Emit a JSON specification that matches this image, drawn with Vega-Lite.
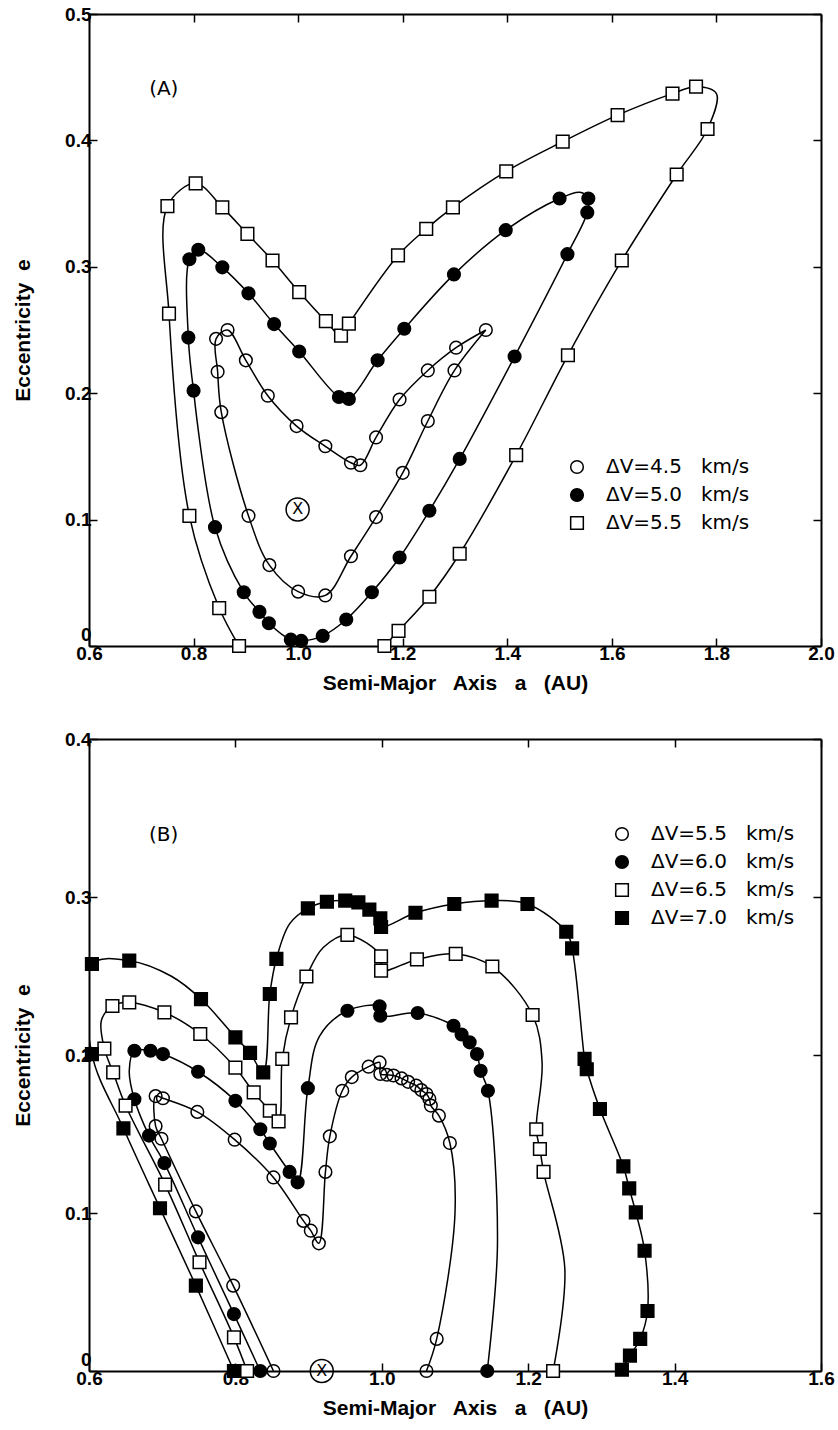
{
  "$schema": "https://vega.github.io/schema/vega-lite/v6.json",
  "background": "white",
  "padding": {"left": 12, "top": 5, "right": 5, "bottom": 5},
  "config": {
    "view": {"stroke": null},
    "font": "Liberation Sans",
    "axis": {
      "domainColor": "black", "domainWidth": 2, "tickColor": "black", "tickWidth": 1.5, "tickSize": -8,
      "labelFont": "Liberation Sans", "labelFontSize": 19, "labelFontWeight": "bold", "labelColor": "black",
      "titleFont": "Liberation Sans", "titleFontSize": 21, "titleFontWeight": "bold", "titleColor": "black",
      "grid": false, "labelFlush": false, "labelPadding": 6
    },
    "legend": {
      "orient": "none", "title": null, "padding": 0, "labelFont": "DejaVu Sans", "labelFontSize": 20, "labelColor": "black",
      "labelOffset": 19, "rowPadding": 8, "symbolSize": 160, "symbolStrokeWidth": 1.5, "labelLimit": 400
    }
  },
  "datasets": {
    "A": [
      {"dv":4.5,"o":1,"a":1.359,"e":0.250,"m":1},
      {"dv":4.5,"o":2,"a":1.299,"e":0.218,"m":1},
      {"dv":4.5,"o":3,"a":1.248,"e":0.178,"m":1},
      {"dv":4.5,"o":4,"a":1.200,"e":0.137,"m":1},
      {"dv":4.5,"o":5,"a":1.149,"e":0.102,"m":1},
      {"dv":4.5,"o":6,"a":1.101,"e":0.071,"m":1},
      {"dv":4.5,"o":7,"a":1.052,"e":0.040,"m":1},
      {"dv":4.5,"o":8,"a":1.000,"e":0.043,"m":1},
      {"dv":4.5,"o":9,"a":0.945,"e":0.064,"m":1},
      {"dv":4.5,"o":10,"a":0.905,"e":0.103,"m":1},
      {"dv":4.5,"o":11,"a":0.853,"e":0.185,"m":1},
      {"dv":4.5,"o":12,"a":0.846,"e":0.217,"m":1},
      {"dv":4.5,"o":13,"a":0.843,"e":0.243,"m":1},
      {"dv":4.5,"o":14,"a":0.865,"e":0.250,"m":1},
      {"dv":4.5,"o":15,"a":0.900,"e":0.226,"m":1},
      {"dv":4.5,"o":16,"a":0.942,"e":0.198,"m":1},
      {"dv":4.5,"o":17,"a":0.997,"e":0.174,"m":1},
      {"dv":4.5,"o":18,"a":1.052,"e":0.158,"m":1},
      {"dv":4.5,"o":19,"a":1.101,"e":0.145,"m":1},
      {"dv":4.5,"o":20,"a":1.119,"e":0.143,"m":1},
      {"dv":4.5,"o":21,"a":1.149,"e":0.165,"m":1},
      {"dv":4.5,"o":22,"a":1.194,"e":0.195,"m":1},
      {"dv":4.5,"o":23,"a":1.248,"e":0.218,"m":1},
      {"dv":4.5,"o":24,"a":1.302,"e":0.236,"m":1},
      {"dv":4.5,"o":25,"a":1.359,"e":0.250,"m":0},
      {"dv":5.0,"o":1,"a":0.800,"e":0.202,"m":1},
      {"dv":5.0,"o":2,"a":0.790,"e":0.244,"m":1},
      {"dv":5.0,"o":3,"a":0.792,"e":0.306,"m":1},
      {"dv":5.0,"o":4,"a":0.809,"e":0.3135,"m":1},
      {"dv":5.0,"o":5,"a":0.855,"e":0.2996,"m":1},
      {"dv":5.0,"o":6,"a":0.905,"e":0.279,"m":1},
      {"dv":5.0,"o":7,"a":0.954,"e":0.2547,"m":1},
      {"dv":5.0,"o":8,"a":1.002,"e":0.233,"m":1},
      {"dv":5.0,"o":9,"a":1.078,"e":0.197,"m":1},
      {"dv":5.0,"o":10,"a":1.097,"e":0.1955,"m":1},
      {"dv":5.0,"o":11,"a":1.152,"e":0.226,"m":1},
      {"dv":5.0,"o":12,"a":1.203,"e":0.251,"m":1},
      {"dv":5.0,"o":13,"a":1.298,"e":0.294,"m":1},
      {"dv":5.0,"o":14,"a":1.397,"e":0.329,"m":1},
      {"dv":5.0,"o":15,"a":1.500,"e":0.354,"m":1},
      {"dv":5.0,"o":16,"a":1.539,"e":0.359,"m":0},
      {"dv":5.0,"o":17,"a":1.555,"e":0.354,"m":1},
      {"dv":5.0,"o":18,"a":1.553,"e":0.343,"m":1},
      {"dv":5.0,"o":19,"a":1.515,"e":0.310,"m":1},
      {"dv":5.0,"o":20,"a":1.414,"e":0.229,"m":1},
      {"dv":5.0,"o":21,"a":1.309,"e":0.148,"m":1},
      {"dv":5.0,"o":22,"a":1.251,"e":0.107,"m":1},
      {"dv":5.0,"o":23,"a":1.194,"e":0.070,"m":1},
      {"dv":5.0,"o":24,"a":1.141,"e":0.0425,"m":1},
      {"dv":5.0,"o":25,"a":1.092,"e":0.021,"m":1},
      {"dv":5.0,"o":26,"a":1.047,"e":0.008,"m":1},
      {"dv":5.0,"o":27,"a":1.006,"e":0.004,"m":1},
      {"dv":5.0,"o":28,"a":0.986,"e":0.005,"m":1},
      {"dv":5.0,"o":29,"a":0.944,"e":0.018,"m":1},
      {"dv":5.0,"o":30,"a":0.926,"e":0.027,"m":1},
      {"dv":5.0,"o":31,"a":0.896,"e":0.0425,"m":1},
      {"dv":5.0,"o":32,"a":0.841,"e":0.094,"m":1},
      {"dv":5.0,"o":33,"a":0.800,"e":0.202,"m":0},
      {"dv":5.5,"o":1,"a":0.887,"e":0.000,"m":1},
      {"dv":5.5,"o":2,"a":0.849,"e":0.030,"m":1},
      {"dv":5.5,"o":3,"a":0.792,"e":0.103,"m":1},
      {"dv":5.5,"o":4,"a":0.753,"e":0.263,"m":1},
      {"dv":5.5,"o":5,"a":0.750,"e":0.348,"m":1},
      {"dv":5.5,"o":6,"a":0.804,"e":0.366,"m":1},
      {"dv":5.5,"o":7,"a":0.855,"e":0.347,"m":1},
      {"dv":5.5,"o":8,"a":0.903,"e":0.326,"m":1},
      {"dv":5.5,"o":9,"a":0.951,"e":0.305,"m":1},
      {"dv":5.5,"o":10,"a":1.002,"e":0.280,"m":1},
      {"dv":5.5,"o":11,"a":1.053,"e":0.257,"m":1},
      {"dv":5.5,"o":12,"a":1.082,"e":0.2455,"m":1},
      {"dv":5.5,"o":13,"a":1.097,"e":0.255,"m":1},
      {"dv":5.5,"o":14,"a":1.191,"e":0.309,"m":1},
      {"dv":5.5,"o":15,"a":1.245,"e":0.330,"m":1},
      {"dv":5.5,"o":16,"a":1.296,"e":0.347,"m":1},
      {"dv":5.5,"o":17,"a":1.398,"e":0.3755,"m":1},
      {"dv":5.5,"o":18,"a":1.506,"e":0.399,"m":1},
      {"dv":5.5,"o":19,"a":1.611,"e":0.420,"m":1},
      {"dv":5.5,"o":20,"a":1.716,"e":0.437,"m":1},
      {"dv":5.5,"o":21,"a":1.761,"e":0.4425,"m":1},
      {"dv":5.5,"o":22,"a":1.800,"e":0.437,"m":0},
      {"dv":5.5,"o":23,"a":1.783,"e":0.409,"m":1},
      {"dv":5.5,"o":24,"a":1.724,"e":0.373,"m":1},
      {"dv":5.5,"o":25,"a":1.619,"e":0.305,"m":1},
      {"dv":5.5,"o":26,"a":1.516,"e":0.230,"m":1},
      {"dv":5.5,"o":27,"a":1.417,"e":0.151,"m":1},
      {"dv":5.5,"o":28,"a":1.309,"e":0.073,"m":1},
      {"dv":5.5,"o":29,"a":1.251,"e":0.039,"m":1},
      {"dv":5.5,"o":30,"a":1.192,"e":0.012,"m":1},
      {"dv":5.5,"o":31,"a":1.165,"e":0.000,"m":1}
    ],
    "B": [
      {"dv":5.5,"o":1,"a":0.852,"e":0.000,"m":1},
      {"dv":5.5,"o":2,"a":0.797,"e":0.054,"m":1},
      {"dv":5.5,"o":3,"a":0.746,"e":0.101,"m":1},
      {"dv":5.5,"o":4,"a":0.699,"e":0.147,"m":1},
      {"dv":5.5,"o":5,"a":0.691,"e":0.155,"m":1},
      {"dv":5.5,"o":6,"a":0.691,"e":0.174,"m":1},
      {"dv":5.5,"o":7,"a":0.701,"e":0.1726,"m":1},
      {"dv":5.5,"o":8,"a":0.748,"e":0.164,"m":1},
      {"dv":5.5,"o":9,"a":0.799,"e":0.1464,"m":1},
      {"dv":5.5,"o":10,"a":0.852,"e":0.1225,"m":1},
      {"dv":5.5,"o":11,"a":0.893,"e":0.095,"m":1},
      {"dv":5.5,"o":12,"a":0.903,"e":0.0888,"m":1},
      {"dv":5.5,"o":13,"a":0.914,"e":0.0808,"m":1},
      {"dv":5.5,"o":14,"a":0.923,"e":0.126,"m":1},
      {"dv":5.5,"o":15,"a":0.929,"e":0.1485,"m":1},
      {"dv":5.5,"o":16,"a":0.946,"e":0.1774,"m":1},
      {"dv":5.5,"o":17,"a":0.959,"e":0.186,"m":1},
      {"dv":5.5,"o":18,"a":0.982,"e":0.1926,"m":1},
      {"dv":5.5,"o":19,"a":0.997,"e":0.1953,"m":1},
      {"dv":5.5,"o":20,"a":0.998,"e":0.188,"m":1},
      {"dv":5.5,"o":21,"a":1.007,"e":0.1875,"m":1},
      {"dv":5.5,"o":22,"a":1.016,"e":0.187,"m":1},
      {"dv":5.5,"o":23,"a":1.027,"e":0.1852,"m":1},
      {"dv":5.5,"o":24,"a":1.036,"e":0.183,"m":1},
      {"dv":5.5,"o":25,"a":1.047,"e":0.1806,"m":1},
      {"dv":5.5,"o":26,"a":1.054,"e":0.1778,"m":1},
      {"dv":5.5,"o":27,"a":1.061,"e":0.1753,"m":1},
      {"dv":5.5,"o":28,"a":1.065,"e":0.1722,"m":1},
      {"dv":5.5,"o":29,"a":1.067,"e":0.168,"m":1},
      {"dv":5.5,"o":30,"a":1.078,"e":0.1616,"m":1},
      {"dv":5.5,"o":31,"a":1.093,"e":0.1443,"m":1},
      {"dv":5.5,"o":32,"a":1.100,"e":0.100,"m":0},
      {"dv":5.5,"o":33,"a":1.075,"e":0.0203,"m":1},
      {"dv":5.5,"o":34,"a":1.061,"e":0.000,"m":1},
      {"dv":6.0,"o":1,"a":0.834,"e":0.000,"m":1},
      {"dv":6.0,"o":2,"a":0.798,"e":0.036,"m":1},
      {"dv":6.0,"o":3,"a":0.749,"e":0.0846,"m":1},
      {"dv":6.0,"o":4,"a":0.703,"e":0.1316,"m":1},
      {"dv":6.0,"o":5,"a":0.682,"e":0.149,"m":1},
      {"dv":6.0,"o":6,"a":0.662,"e":0.172,"m":1},
      {"dv":6.0,"o":7,"a":0.655,"e":0.190,"m":0},
      {"dv":6.0,"o":8,"a":0.662,"e":0.2027,"m":1},
      {"dv":6.0,"o":9,"a":0.684,"e":0.2027,"m":1},
      {"dv":6.0,"o":10,"a":0.701,"e":0.2006,"m":1},
      {"dv":6.0,"o":11,"a":0.749,"e":0.1894,"m":1},
      {"dv":6.0,"o":12,"a":0.800,"e":0.171,"m":1},
      {"dv":6.0,"o":13,"a":0.834,"e":0.153,"m":1},
      {"dv":6.0,"o":14,"a":0.847,"e":0.144,"m":1},
      {"dv":6.0,"o":15,"a":0.874,"e":0.126,"m":1},
      {"dv":6.0,"o":16,"a":0.885,"e":0.1194,"m":1},
      {"dv":6.0,"o":17,"a":0.899,"e":0.179,"m":1},
      {"dv":6.0,"o":18,"a":0.915,"e":0.212,"m":0},
      {"dv":6.0,"o":19,"a":0.953,"e":0.228,"m":1},
      {"dv":6.0,"o":20,"a":0.997,"e":0.2308,"m":1},
      {"dv":6.0,"o":21,"a":0.998,"e":0.2249,"m":1},
      {"dv":6.0,"o":22,"a":1.049,"e":0.2266,"m":1},
      {"dv":6.0,"o":23,"a":1.098,"e":0.2185,"m":1},
      {"dv":6.0,"o":24,"a":1.109,"e":0.213,"m":1},
      {"dv":6.0,"o":25,"a":1.120,"e":0.208,"m":1},
      {"dv":6.0,"o":26,"a":1.130,"e":0.2006,"m":1},
      {"dv":6.0,"o":27,"a":1.135,"e":0.190,"m":1},
      {"dv":6.0,"o":28,"a":1.145,"e":0.1774,"m":1},
      {"dv":6.0,"o":29,"a":1.158,"e":0.080,"m":0},
      {"dv":6.0,"o":30,"a":1.144,"e":0.000,"m":1},
      {"dv":6.5,"o":1,"a":0.816,"e":0.000,"m":1},
      {"dv":6.5,"o":2,"a":0.798,"e":0.0213,"m":1},
      {"dv":6.5,"o":3,"a":0.751,"e":0.0688,"m":1},
      {"dv":6.5,"o":4,"a":0.704,"e":0.118,"m":1},
      {"dv":6.5,"o":5,"a":0.650,"e":0.168,"m":1},
      {"dv":6.5,"o":6,"a":0.633,"e":0.189,"m":1},
      {"dv":6.5,"o":7,"a":0.621,"e":0.204,"m":1},
      {"dv":6.5,"o":8,"a":0.617,"e":0.222,"m":0},
      {"dv":6.5,"o":9,"a":0.632,"e":0.231,"m":1},
      {"dv":6.5,"o":10,"a":0.655,"e":0.2333,"m":1},
      {"dv":6.5,"o":11,"a":0.703,"e":0.227,"m":1},
      {"dv":6.5,"o":12,"a":0.752,"e":0.2133,"m":1},
      {"dv":6.5,"o":13,"a":0.800,"e":0.192,"m":1},
      {"dv":6.5,"o":14,"a":0.825,"e":0.1763,"m":1},
      {"dv":6.5,"o":15,"a":0.847,"e":0.1647,"m":1},
      {"dv":6.5,"o":16,"a":0.859,"e":0.158,"m":1},
      {"dv":6.5,"o":17,"a":0.864,"e":0.1975,"m":1},
      {"dv":6.5,"o":18,"a":0.876,"e":0.2238,"m":1},
      {"dv":6.5,"o":19,"a":0.897,"e":0.2497,"m":1},
      {"dv":6.5,"o":20,"a":0.920,"e":0.268,"m":0},
      {"dv":6.5,"o":21,"a":0.953,"e":0.276,"m":1},
      {"dv":6.5,"o":22,"a":0.999,"e":0.2624,"m":1},
      {"dv":6.5,"o":23,"a":0.999,"e":0.2534,"m":1},
      {"dv":6.5,"o":24,"a":1.048,"e":0.2605,"m":1},
      {"dv":6.5,"o":25,"a":1.101,"e":0.264,"m":1},
      {"dv":6.5,"o":26,"a":1.151,"e":0.256,"m":1},
      {"dv":6.5,"o":27,"a":1.206,"e":0.2253,"m":1},
      {"dv":6.5,"o":28,"a":1.219,"e":0.195,"m":0},
      {"dv":6.5,"o":29,"a":1.211,"e":0.153,"m":1},
      {"dv":6.5,"o":30,"a":1.216,"e":0.1405,"m":1},
      {"dv":6.5,"o":31,"a":1.221,"e":0.126,"m":1},
      {"dv":6.5,"o":32,"a":1.250,"e":0.065,"m":0},
      {"dv":6.5,"o":33,"a":1.234,"e":0.000,"m":1},
      {"dv":7.0,"o":1,"a":0.798,"e":0.000,"m":1},
      {"dv":7.0,"o":2,"a":0.746,"e":0.054,"m":1},
      {"dv":7.0,"o":3,"a":0.697,"e":0.103,"m":1},
      {"dv":7.0,"o":4,"a":0.647,"e":0.1536,"m":1},
      {"dv":7.0,"o":5,"a":0.604,"e":0.2006,"m":1},
      {"dv":7.0,"o":6,"a":0.604,"e":0.2576,"m":1},
      {"dv":7.0,"o":7,"a":0.655,"e":0.2597,"m":1},
      {"dv":7.0,"o":8,"a":0.712,"e":0.250,"m":0},
      {"dv":7.0,"o":9,"a":0.753,"e":0.2354,"m":1},
      {"dv":7.0,"o":10,"a":0.800,"e":0.2112,"m":1},
      {"dv":7.0,"o":11,"a":0.820,"e":0.2013,"m":1},
      {"dv":7.0,"o":12,"a":0.838,"e":0.189,"m":1},
      {"dv":7.0,"o":13,"a":0.847,"e":0.2386,"m":1},
      {"dv":7.0,"o":14,"a":0.856,"e":0.2608,"m":1},
      {"dv":7.0,"o":15,"a":0.874,"e":0.283,"m":0},
      {"dv":7.0,"o":16,"a":0.899,"e":0.2928,"m":1},
      {"dv":7.0,"o":17,"a":0.925,"e":0.297,"m":1},
      {"dv":7.0,"o":18,"a":0.950,"e":0.2977,"m":1},
      {"dv":7.0,"o":19,"a":0.968,"e":0.2966,"m":1},
      {"dv":7.0,"o":20,"a":0.983,"e":0.292,"m":1},
      {"dv":7.0,"o":21,"a":0.998,"e":0.2865,"m":1},
      {"dv":7.0,"o":22,"a":0.999,"e":0.281,"m":1},
      {"dv":7.0,"o":23,"a":1.046,"e":0.290,"m":1},
      {"dv":7.0,"o":24,"a":1.099,"e":0.2956,"m":1},
      {"dv":7.0,"o":25,"a":1.150,"e":0.2977,"m":1},
      {"dv":7.0,"o":26,"a":1.199,"e":0.2956,"m":1},
      {"dv":7.0,"o":27,"a":1.252,"e":0.278,"m":1},
      {"dv":7.0,"o":28,"a":1.260,"e":0.2675,"m":1},
      {"dv":7.0,"o":29,"a":1.277,"e":0.1975,"m":1},
      {"dv":7.0,"o":30,"a":1.280,"e":0.191,"m":1},
      {"dv":7.0,"o":31,"a":1.298,"e":0.1658,"m":1},
      {"dv":7.0,"o":32,"a":1.330,"e":0.1295,"m":1},
      {"dv":7.0,"o":33,"a":1.338,"e":0.1156,"m":1},
      {"dv":7.0,"o":34,"a":1.347,"e":0.1004,"m":1},
      {"dv":7.0,"o":35,"a":1.359,"e":0.0761,"m":1},
      {"dv":7.0,"o":36,"a":1.363,"e":0.038,"m":1},
      {"dv":7.0,"o":37,"a":1.353,"e":0.0203,"m":1},
      {"dv":7.0,"o":38,"a":1.339,"e":0.0097,"m":1},
      {"dv":7.0,"o":39,"a":1.328,"e":0.0008,"m":1}
    ]
  },
  "spacing": 37,
  "resolve": {"scale": {"shape": "independent", "fill": "independent", "stroke": "independent"}, "legend": {"shape": "independent", "fill": "independent", "stroke": "independent"}},
  "vconcat": [
    {
      "width": 732, "height": 632,
      "layer": [
        {
          "data": {"name": "A"},
          "layer": [
            {
              "mark": {"type": "line", "interpolate": "catmull-rom", "stroke": "black", "strokeWidth": 1.5, "clip": true},
              "encoding": {
                "x": {"field": "a", "type": "quantitative", "scale": {"domain": [0.6, 2.0], "nice": false, "zero": false},
                      "axis": {"orient": "bottom", "values": [0.6,0.8,1.0,1.2,1.4,1.6,1.8,2.0], "format": ".1f", "title": "Semi-Major\u00a0\u00a0 Axis\u00a0\u00a0 a\u00a0\u00a0 (AU)", "titlePadding": 9}},
                "y": {"field": "e", "type": "quantitative", "scale": {"domain": [0, 0.5], "nice": false, "zero": false},
                      "axis": {"orient": "left", "values": [0,0.1,0.2,0.3,0.4,0.5], "labelExpr": "datum.value == 0 ? '0' : format(datum.value, '.1f')", "labelBaseline": {"condition": {"test": "datum.value == 0", "value": "bottom"}, "value": "middle"}, "labelOffset": {"condition": {"test": "datum.value == 0", "value": -2}, "value": 0}, "title": "Eccentricity\u00a0\u00a0e", "titlePadding": 31}},
                "detail": {"field": "dv", "type": "nominal"},
                "order": {"field": "o", "type": "quantitative"}
              }
            },
            {
              "transform": [{"filter": "datum.m == 1"}],
              "mark": {"type": "point", "filled": true, "strokeWidth": 1.5, "size": 160, "opacity": 1},
              "encoding": {
                "x": {"field": "a", "type": "quantitative"},
                "y": {"field": "e", "type": "quantitative"},
                "shape": {"field": "dv", "type": "nominal", "scale": {"domain": [4.5, 5.0, 5.5], "range": ["circle", "circle", "square"]},
                          "legend": {"legendX": 478, "legendY": 443, "labelExpr": "'\u0394V=' + format(datum.value, '.1f') + '\u00a0\u00a0\u00a0km/s'"}},
                "fill": {"field": "dv", "type": "nominal", "scale": {"domain": [4.5, 5.0, 5.5], "range": ["transparent", "black", "white"]},
                          "legend": {"legendX": 478, "legendY": 443, "labelExpr": "'\u0394V=' + format(datum.value, '.1f') + '\u00a0\u00a0\u00a0km/s'"}},
                "stroke": {"field": "dv", "type": "nominal", "scale": {"domain": [4.5, 5.0, 5.5], "range": ["black", "black", "black"]},
                          "legend": {"legendX": 478, "legendY": 443, "labelExpr": "'\u0394V=' + format(datum.value, '.1f') + '\u00a0\u00a0\u00a0km/s'"}}
              }
            },
            {
              "data": {"values": [{"a": 0.715, "e": 0.441, "t": "(A)"}]},
              "mark": {"type": "text", "align": "left", "baseline": "middle", "font": "DejaVu Sans", "fontSize": 20, "color": "black"},
              "encoding": {"x": {"field": "a", "type": "quantitative"}, "y": {"field": "e", "type": "quantitative"}, "text": {"field": "t"}}
            },
            {
              "data": {"values": [{"a": 0.999, "e": 0.108, "t": "X"}]},
              "layer": [
                {"mark": {"type": "point", "shape": "circle", "size": 529, "filled": false, "stroke": "black", "strokeWidth": 1.5, "opacity": 1},
                 "encoding": {"x": {"field": "a", "type": "quantitative"}, "y": {"field": "e", "type": "quantitative"}}},
                {"mark": {"type": "text", "align": "center", "baseline": "middle", "font": "DejaVu Sans", "fontSize": 16, "color": "black"},
                 "encoding": {"x": {"field": "a", "type": "quantitative"}, "y": {"field": "e", "type": "quantitative"}, "text": {"field": "t"}}}
              ]
            }
          ]
        },
        {
          "data": {"values": [{"a": 0.6, "e": 0}]},
          "mark": {"type": "point", "opacity": 0},
          "encoding": {
            "x": {"field": "a", "type": "quantitative", "axis": {"orient": "top", "labels": false, "title": null, "values": [0.6,0.8,1.0,1.2,1.4,1.6,1.8,2.0]}},
            "y": {"field": "e", "type": "quantitative", "axis": {"orient": "right", "labels": false, "title": null, "values": [0,0.1,0.2,0.3,0.4,0.5]}}
          }
        }
      ],
      "resolve": {"axis": {"x": "independent", "y": "independent"}}
    },
    {
      "width": 732, "height": 632,
      "layer": [
        {
          "data": {"name": "B"},
          "layer": [
            {
              "mark": {"type": "line", "interpolate": "catmull-rom", "stroke": "black", "strokeWidth": 1.5, "clip": true},
              "encoding": {
                "x": {"field": "a", "type": "quantitative", "scale": {"domain": [0.6, 1.6], "nice": false, "zero": false},
                      "axis": {"orient": "bottom", "values": [0.6,0.8,1.0,1.2,1.4,1.6], "format": ".1f", "title": "Semi-Major\u00a0\u00a0 Axis\u00a0\u00a0 a\u00a0\u00a0 (AU)", "titlePadding": 9}},
                "y": {"field": "e", "type": "quantitative", "scale": {"domain": [0, 0.4], "nice": false, "zero": false},
                      "axis": {"orient": "left", "values": [0,0.1,0.2,0.3,0.4], "labelExpr": "datum.value == 0 ? '0' : format(datum.value, '.1f')", "labelBaseline": {"condition": {"test": "datum.value == 0", "value": "bottom"}, "value": "middle"}, "labelOffset": {"condition": {"test": "datum.value == 0", "value": -2}, "value": 0}, "title": "Eccentricity\u00a0\u00a0e", "titlePadding": 31}},
                "detail": {"field": "dv", "type": "nominal"},
                "order": {"field": "o", "type": "quantitative"}
              }
            },
            {
              "transform": [{"filter": "datum.m == 1"}],
              "mark": {"type": "point", "filled": true, "strokeWidth": 1.5, "size": 160, "opacity": 1},
              "encoding": {
                "x": {"field": "a", "type": "quantitative"},
                "y": {"field": "e", "type": "quantitative"},
                "shape": {"field": "dv", "type": "nominal", "scale": {"domain": [5.5, 6.0, 6.5, 7.0], "range": ["circle", "circle", "square", "square"]},
                          "legend": {"legendX": 523, "legendY": 85, "labelExpr": "'\u0394V=' + format(datum.value, '.1f') + '\u00a0\u00a0\u00a0km/s'"}},
                "fill": {"field": "dv", "type": "nominal", "scale": {"domain": [5.5, 6.0, 6.5, 7.0], "range": ["transparent", "black", "white", "black"]},
                          "legend": {"legendX": 523, "legendY": 85, "labelExpr": "'\u0394V=' + format(datum.value, '.1f') + '\u00a0\u00a0\u00a0km/s'"}},
                "stroke": {"field": "dv", "type": "nominal", "scale": {"domain": [5.5, 6.0, 6.5, 7.0], "range": ["black", "black", "black", "black"]},
                          "legend": {"legendX": 523, "legendY": 85, "labelExpr": "'\u0394V=' + format(datum.value, '.1f') + '\u00a0\u00a0\u00a0km/s'"}}
              }
            },
            {
              "data": {"values": [{"a": 0.682, "e": 0.339, "t": "(B)"}]},
              "mark": {"type": "text", "align": "left", "baseline": "middle", "font": "DejaVu Sans", "fontSize": 20, "color": "black"},
              "encoding": {"x": {"field": "a", "type": "quantitative"}, "y": {"field": "e", "type": "quantitative"}, "text": {"field": "t"}}
            },
            {
              "data": {"values": [{"a": 0.918, "e": 0.0, "t": "X"}]},
              "layer": [
                {"mark": {"type": "point", "shape": "circle", "size": 529, "filled": false, "stroke": "black", "strokeWidth": 1.5, "opacity": 1},
                 "encoding": {"x": {"field": "a", "type": "quantitative"}, "y": {"field": "e", "type": "quantitative"}}},
                {"mark": {"type": "text", "align": "center", "baseline": "middle", "font": "DejaVu Sans", "fontSize": 16, "color": "black"},
                 "encoding": {"x": {"field": "a", "type": "quantitative"}, "y": {"field": "e", "type": "quantitative"}, "text": {"field": "t"}}}
              ]
            }
          ]
        },
        {
          "data": {"values": [{"a": 0.6, "e": 0}]},
          "mark": {"type": "point", "opacity": 0},
          "encoding": {
            "x": {"field": "a", "type": "quantitative", "axis": {"orient": "top", "labels": false, "title": null, "values": [0.6,0.8,1.0,1.2,1.4,1.6]}},
            "y": {"field": "e", "type": "quantitative", "axis": {"orient": "right", "labels": false, "title": null, "values": [0,0.1,0.2,0.3,0.4]}}
          }
        }
      ],
      "resolve": {"axis": {"x": "independent", "y": "independent"}}
    }
  ]
}
